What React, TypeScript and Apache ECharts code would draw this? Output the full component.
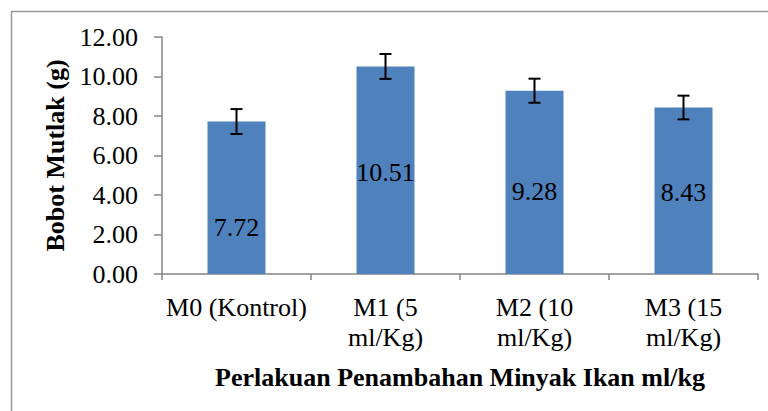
import React, { useEffect, useRef } from "react";
import * as echarts from "echarts";

const categories = ["M0 (Kontrol)", "M1 (5\nml/Kg)", "M2 (10\nml/Kg)", "M3 (15\nml/Kg)"];
const values = [7.72, 10.51, 9.28, 8.43];
const errors = [0.63, 0.63, 0.61, 0.6];
const yTicks = { min: 0, max: 12, interval: 2 };
const labelShiftY = [30, 2, 9, 2];

const FONT = "'Liberation Serif', 'Times New Roman', serif";

export default function App() {
  const ref = useRef<HTMLDivElement>(null);
  useEffect(() => {
    if (!ref.current) return;
    const chart = echarts.init(ref.current, null, { renderer: "svg" });
    const errData = values.map((v, i) => [i, v - errors[i], v + errors[i]]);
    chart.setOption({
      animation: false,
      textStyle: { fontFamily: FONT },
      graphic: [
        {
          type: "rect",
          shape: { x: 11.5, y: 11.5, width: 820, height: 500 },
          style: { fill: "none", stroke: "#9a9a9a", lineWidth: 1.5 },
          silent: true,
        },
      ],
      grid: { left: 162, right: 10, top: 37, bottom: 137 },
      xAxis: {
        type: "category",
        data: categories,
        axisLine: { lineStyle: { color: "#868686", width: 1.5 } },
        axisTick: { show: true, length: 6, lineStyle: { color: "#868686", width: 1.5 } },
        axisLabel: {
          color: "#000",
          fontFamily: FONT,
          fontSize: 26,
          lineHeight: 30,
          margin: 18,
          interval: 0,
        },
        name: "Perlakuan Penambahan Minyak Ikan ml/kg",
        nameLocation: "middle",
        nameGap: 90,
        nameTextStyle: { color: "#000", fontFamily: FONT, fontSize: 26, fontWeight: "bold" },
      },
      yAxis: {
        type: "value",
        min: yTicks.min,
        max: yTicks.max,
        interval: yTicks.interval,
        splitLine: { show: false },
        axisLine: { show: true, lineStyle: { color: "#868686", width: 1.5 } },
        axisTick: { show: true, length: 8, lineStyle: { color: "#868686", width: 1.5 } },
        axisLabel: {
          color: "#000",
          fontFamily: FONT,
          fontSize: 26,
          margin: 24,
          formatter: (v: number) => v.toFixed(2),
        },
        name: "Bobot Mutlak (g)",
        nameLocation: "middle",
        nameGap: 92,
        nameTextStyle: { color: "#000", fontFamily: FONT, fontSize: 26, fontWeight: "bold" },
      },
      series: [
        {
          type: "bar",
          barWidth: 58,
          data: values.map((v, i) => ({
            value: v,
            label: { offset: [0, labelShiftY[i]] },
          })),
          itemStyle: { color: "#4F81BD" },
          label: {
            show: true,
            position: "inside",
            color: "#000",
            fontFamily: FONT,
            fontSize: 26,
            formatter: (p: any) => Number(p.value).toFixed(2),
          },
        },
        {
          type: "custom",
          data: errData,
          z: 10,
          renderItem: (params: any, api: any) => {
            const x = api.coord([api.value(0), 0])[0];
            const lo = api.coord([api.value(0), api.value(1)])[1];
            const hi = api.coord([api.value(0), api.value(2)])[1];
            const hw = 6;
            const st = { stroke: "#000", lineWidth: 2 };
            return {
              type: "group",
              children: [
                { type: "line", shape: { x1: x, y1: lo, x2: x, y2: hi }, style: st },
                { type: "line", shape: { x1: x - hw, y1: lo, x2: x + hw, y2: lo }, style: st },
                { type: "line", shape: { x1: x - hw, y1: hi, x2: x + hw, y2: hi }, style: st },
              ],
            };
          },
        },
      ],
    });
    return () => chart.dispose();
  }, []);
  return (
    <div
      ref={ref}
      style={{ position: "fixed", left: 0, top: 0, width: 768, height: 411, background: "#fff" }}
    />
  );
}
